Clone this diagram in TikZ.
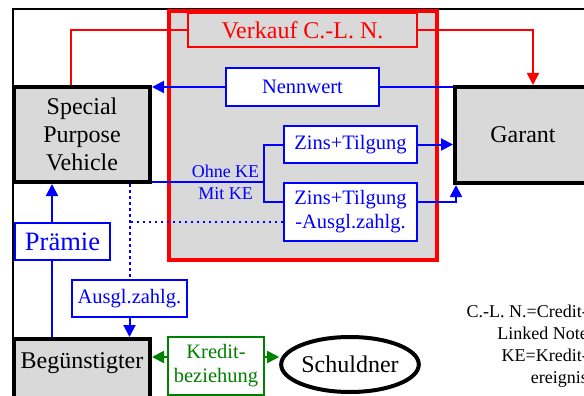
\documentclass[tikz,border=0pt]{standalone}
\usepackage{fontspec}
\setmainfont{Liberation Serif}
\usetikzlibrary{calc,positioning,arrows.meta,shapes.geometric}
\definecolor{boxgray}{RGB}{217,217,217}
\definecolor{kgreen}{RGB}{0,128,0}
\newcommand\lblbig{\fontsize{24}{28}\selectfont}
\newcommand\lblmid{\fontsize{20.5}{24}\selectfont}
\newcommand\lblsmall{\fontsize{18}{22}\selectfont}

\begin{document}
\begin{tikzpicture}[x=1pt,y=-1pt,
  party/.style={draw=black,fill=boxgray,line width=4pt,inner sep=0pt,minimum width=136,align=center,font=\lblbig},
  flow/.style={draw=blue,fill=white,line width=2pt,inner sep=0pt,text=blue,align=center,font=\lblmid},
  bline/.style={blue,line width=2pt},
  rline/.style={red,line width=2pt},
  gline/.style={kgreen,line width=2pt},
  dotline/.style={blue,line width=2pt,dash pattern=on 2.5pt off 3.5pt},
  arr/.style={-{Triangle[length=12pt,width=12pt]}}]
  \useasboundingbox (0,0) rectangle (584,396);
  \clip (0,0) rectangle (584,396);
  % frame and C.-L. N. area
  \draw[line width=2pt] (13,9) rectangle (620,430);
  \draw[red,line width=4pt,fill=boxgray] (168.5,11) rectangle (437,260);

  \node[party,minimum height=95] (spv) at (82,134.5) {Special\\Purpose\\Vehicle};
  \node[party,minimum height=96] (garant) at (523,135) {Garant};
  \node[party,minimum height=100,anchor=north,
        label={[anchor=center,yshift=-26pt,font=\lblbig]north:Begünstigter}] (beg) at (82,337) {};
  \node[draw=black,line width=4pt,ellipse,minimum width=133,minimum height=55,inner sep=0pt,font=\lblbig] (sch) at (350,364.5) {Schuldner};

  \node[draw=red,fill=boxgray,line width=2pt,inner sep=0pt,minimum width=229,minimum height=34,text=red,font=\lblbig] (vk) at (302.5,30) {Verkauf C.-L. N.};
  \node[flow,minimum width=153,minimum height=38] (nw) at (302.5,87) {Nennwert};
  \node[flow,minimum width=133,minimum height=37] (zt) at (350.5,144.5) {Zins+Tilgung};
  \node[flow,minimum width=133,minimum height=58] (zta) at (350.5,212) {Zins+Tilgung\\-Ausgl.zahlg.};
  \node[flow,minimum width=115,minimum height=37] (ausgl) at (129.5,298.5) {Ausgl.zahlg.};
  \node[flow,minimum width=95,minimum height=37,font=\fontsize{26.5}{30}\selectfont] (praemie) at (62.5,241.5) {Prämie};
  \node[draw=kgreen,fill=white,line width=2pt,inner sep=0pt,minimum width=96,minimum height=58,text=kgreen,align=center,font=\lblmid] (kb) at (216,366) {Kredit-\\beziehung};

  \node[text=blue,align=center,inner sep=0pt,font=\lblsmall] (ke) at (225.5,182) {Ohne KE\\Mit KE};
  \node[align=right,anchor=east,inner sep=0pt,font=\lblsmall] (note) at (588,346.5) {C.-L. N.=Credit-\\Linked Note\\KE=Kredit-\\ereignis};

  % sale of the note
  \draw[rline] ([xshift=-11pt]spv.north) |- (vk.west);
  \draw[rline,arr] (vk.east) -| ([xshift=10pt]garant.north);
  % payments
  \draw[bline] (nw.east -| garant.west) -- (nw.east);
  \draw[bline,arr] (nw.west) -- (nw.west -| spv.east);
  \draw[bline,arr] (zt.east) -- (zt.east -| garant.west);
  \draw[bline,arr] ([yshift=10pt]zta.east) -| ([xshift=3pt]garant.south west);
  \coordinate (fork) at (264,182);
  \draw[bline] ([yshift=2pt]spv.south east) -- (fork);
  \draw[bline] (zt.west) -| (fork) |- ([yshift=10pt]zta.west);
  \draw[dotline] (ausgl.north |- spv.south) -- (ausgl.north);
  \draw[dotline] ([yshift=-10pt]zta.west) -- ([yshift=-10pt]zta.west -| ausgl.north);
  \draw[bline,arr] (ausgl.south) -- (ausgl.south |- beg.north);
  \draw[bline] ([xshift=-10.5pt]praemie.south) -- ([xshift=-10.5pt]praemie.south |- beg.north);
  \draw[bline,arr] ([xshift=-10.5pt]praemie.north) -- ([xshift=-10.5pt]praemie.north |- spv.south);
  % credit relation
  \draw[gline,arr] ([yshift=9pt]kb.west) -- ([yshift=9pt]kb.west -| beg.east);
  \draw[gline,arr] ([yshift=9pt]kb.east) -- ([yshift=9pt]kb.east -| sch.west);
\end{tikzpicture}
\end{document}
